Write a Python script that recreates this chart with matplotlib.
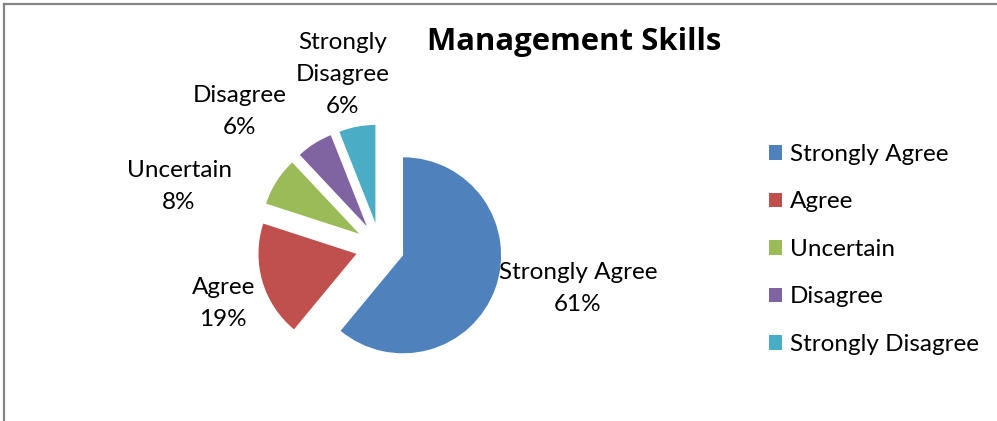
import matplotlib
matplotlib.use("Agg")
import matplotlib.pyplot as plt
from matplotlib.lines import Line2D

# Survey responses for the management skills item
categories = ["Strongly Agree", "Agree", "Uncertain", "Disagree", "Strongly Disagree"]
shares = [61, 19, 8, 6, 6]
colors = ["#4F81BD", "#C0504D", "#9BBB59", "#8064A2", "#4BACC6"]
title = "Management Skills"

plt.rcParams["font.family"] = ["Lato", "DejaVu Sans"]

W, H = 997, 421
fig = plt.figure(figsize=(W / 100, H / 100), dpi=100)

# pie axes: centre at (380, 247) px from top-left, radius 98 px
cx, cy, r_px = 380, 247, 98
span = 1.6
half = span * r_px
ax = fig.add_axes([(cx - half) / W, (H - cy - half) / H, 2 * half / W, 2 * half / H])
wedges, _ = ax.pie(shares, explode=[0.25] * len(shares), startangle=90,
                   counterclock=False, colors=colors, radius=1.0,
                   wedgeprops=dict(linewidth=0))
ax.set_xlim(-span, span)
ax.set_ylim(-span, span)
ax.set_aspect("equal")
ax.axis("off")

# data-label anchors (data units, radius = 1)
label_pos = [(2.02, -0.42), (-1.60, -0.58), (-2.05, 0.62), (-1.43, 1.38), (-0.38, 1.76)]
label_text = ["Strongly Agree", "Agree", "Uncertain", "Disagree", "Strongly\nDisagree"]
for (lx, ly), name, v in zip(label_pos, label_text, shares):
    ax.text(lx, ly, f"{name}\n{v}%", ha="center", va="center", fontsize=17.5,
            linespacing=1.65, color="black", clip_on=False)

fig.text(574 / W, 1 - 42 / H, title, ha="center", va="center",
         fontsize=22.4, fontweight="bold", family=["Open Sans", "DejaVu Sans"])

fig.legend(wedges, categories, loc="upper left",
           bbox_to_anchor=(769 / W, 1 - 144 / H), frameon=False,
           fontsize=17.5, handlelength=0.55, handleheight=0.55, handletextpad=0.3,
           labelspacing=1.09, borderpad=0, borderaxespad=0)

# chart-area frame along the top and left edges
fig.add_artist(Line2D([4 / W, 1], [1 - 4 / H, 1 - 4 / H], color="#868686", lw=1.6,
                      transform=fig.transFigure))
fig.add_artist(Line2D([4 / W, 4 / W], [0, 1 - 4 / H], color="#868686", lw=1.6,
                      transform=fig.transFigure))

fig.savefig("out.png", dpi=100, facecolor="white")
